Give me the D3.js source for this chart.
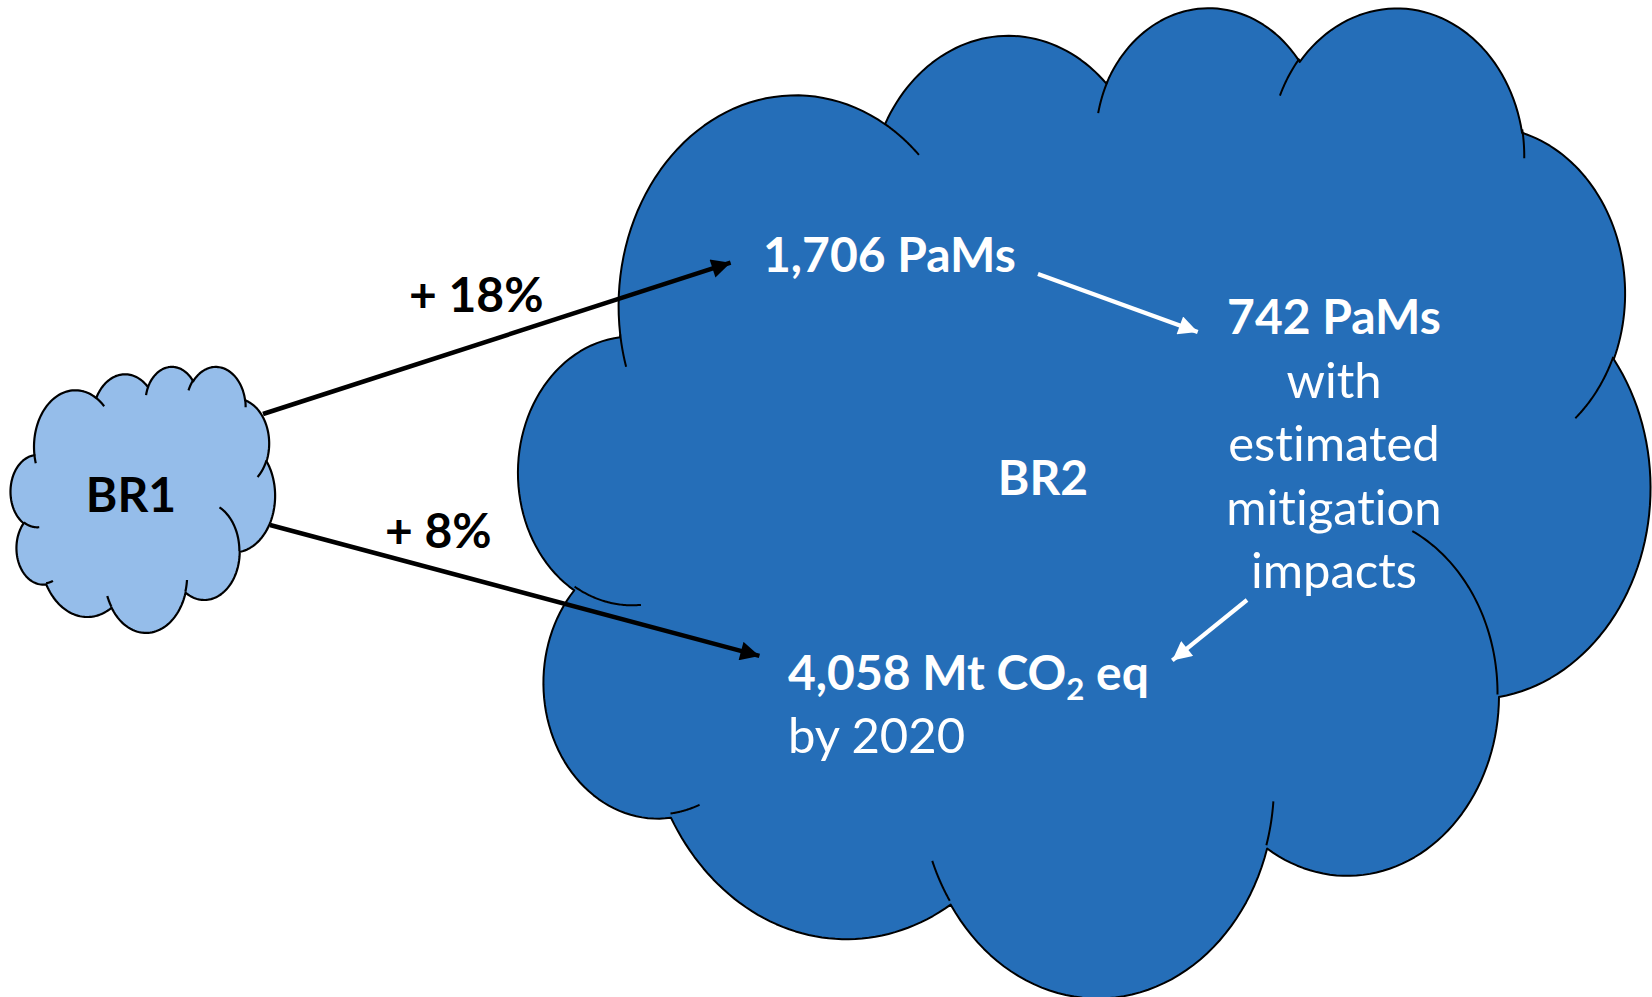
<!DOCTYPE html>
<html>
<head>
<meta charset="utf-8">
<script src="https://cdn.jsdelivr.net/npm/d3@7"></script>
<style>
  html, body { margin: 0; padding: 0; background: #fff; }
  svg { display: block; }
  text { font-family: Lato, 'Open Sans', sans-serif; font-variant-ligatures: none; font-feature-settings: "liga" 0, "clig" 0; }
</style>
</head>
<body>
<svg id="chart"></svg>
<script>
(function () {
  // Variables
  var WIDTH = 1652
  var HEIGHT = 997

  // Data
  var cloudNames = ['BR1', 'BR2']
  var growthLabels = ['+ 18%', '+ 8%']
  var pamsTotal = '1,706 PaMs'
  var pamsWithImpacts = ['742 PaMs', 'with', 'estimated', 'mitigation', 'impacts']
  var emissionsLabel = ['4,058 Mt CO', '2', ' eq']
  var emissionsYear = 'by 2020'

  var COLORS = {
    small: '#95BDEA',
    big: '#256EB8',
    line: '#000'
  }

  // office cloud outline, 43200 x 43200 units: [wR, hR, stAng, swAng] (angles in 1/60000 deg)
  var CLOUD_START = [3900, 14370]
  var CLOUD_ARCS = [
    [6753, 9190, -11429249, 7426832],
    [5333, 7267, -8646143, 5396714],
    [4365, 5945, -8748475, 5983381],
    [4857, 6595, -7859164, 7034504],
    [5333, 7273, -4722533, 6541615],
    [6775, 9220, -2776324, 7804134],
    [5785, 7867, 37501, 6842000],
    [6752, 9215, 1347096, 6910353],
    [7720, 10543, 3974558, 4542661],
    [4360, 5918, -16496525, 8804134],
    [4345, 5945, -14809710, 9151131]
  ]
  // small creases inside the cloud: [x, y, wR, hR, stAng, swAng]
  var CLOUD_CREASES = [
    [4693, 26177, 4345, 5945, 5204520, 1585770],
    [6928, 34899, 4360, 5918, 4416628, 686848],
    [16478, 39090, 6752, 9215, 8257449, 844866],
    [28827, 34751, 6752, 9215, 387196, 959901],
    [34129, 22954, 5785, 7867, -4217541, 4255042],
    [41798, 15354, 5333, 7273, 1819082, 1665090],
    [38324, 5426, 4857, 6595, -824660, 891534],
    [29078, 3952, 4857, 6595, -8950887, 1091722],
    [22141, 4720, 4365, 5945, -9809656, 1061181],
    [14000, 5192, 6753, 9190, -4002417, 739161],
    [4127, 15789, 6753, 9190, 9459261, 711490]
  ]

  var svg = d3.select('#chart')
    .attr('width', WIDTH)
    .attr('height', HEIGHT)

  var defs = svg.append('defs')
  ;[['head-black', '#000'], ['head-white', '#fff']].forEach(function (m) {
    defs.append('marker')
      .attr('id', m[0])
      .attr('viewBox', '0 0 10 10')
      .attr('refX', 10)
      .attr('refY', 5)
      .attr('markerUnits', 'userSpaceOnUse')
      .attr('markerWidth', 20)
      .attr('markerHeight', 19)
      .attr('orient', 'auto')
      .append('path')
      .attr('d', 'M0,0L10,5L0,10z')
      .attr('fill', m[1])
  })

  // visual angle -> parametric angle on the ellipse
  function param (a, wR, hR) {
    return Math.atan2(wR * Math.sin(a), hR * Math.cos(a))
  }

  // sample an arc starting at point p, returns list of points
  function arcPoints (p, wR, hR, st, sw) {
    var a1 = st / 60000 * Math.PI / 180
    var a2 = (st + sw) / 60000 * Math.PI / 180
    var t1 = param(a1, wR, hR)
    var t2 = param(a2, wR, hR)
    var dt = t2 - t1
    if (sw > 0) { while (dt < 0) dt += 2 * Math.PI } else { while (dt > 0) dt -= 2 * Math.PI }
    var cx = p[0] - wR * Math.cos(t1)
    var cy = p[1] - hR * Math.sin(t1)
    var n = 48
    var pts = []
    for (var i = 0; i <= n; i++) {
      var t = t1 + dt * i / n
      pts.push([cx + wR * Math.cos(t), cy + hR * Math.sin(t)])
    }
    return pts
  }

  function drawCloud (frame, fill, strokeWidth) {
    var x = d3.scaleLinear().domain([0, 43200]).range([frame[0], frame[2]])
    var y = d3.scaleLinear().domain([0, 43200]).range([frame[1], frame[3]])
    var line = d3.line().x(function (d) { return x(d[0]) }).y(function (d) { return y(d[1]) })

    var outline = [CLOUD_START]
    var cur = CLOUD_START
    CLOUD_ARCS.forEach(function (a) {
      var pts = arcPoints(cur, a[0], a[1], a[2], a[3])
      outline = outline.concat(pts.slice(1))
      cur = pts[pts.length - 1]
    })

    var g = svg.append('g').classed('cloud', true)
    g.append('path')
      .attr('d', line(outline) + 'Z')
      .attr('fill', fill)
      .attr('stroke', COLORS.line)
      .attr('stroke-width', strokeWidth)
      .attr('stroke-linejoin', 'round')

    g.selectAll('path.crease')
      .data(CLOUD_CREASES)
      .enter().append('path')
      .classed('crease', true)
      .attr('d', function (c) { return line(arcPoints([c[0], c[1]], c[2], c[3], c[4], c[5])) })
      .attr('fill', 'none')
      .attr('stroke', COLORS.line)
      .attr('stroke-width', strokeWidth)
    return g
  }

  // clouds: [left, top, right, bottom]
  drawCloud([518, 5, 1650, 995], COLORS.big, 2)
  drawCloud([10.5, 366, 275, 632], COLORS.small, 2.2)

  // arrows
  var arrows = [
    { from: [263, 414], to: [742, 259], color: '#000', width: 4.5, marker: 'head-black' },
    { from: [270, 525], to: [771, 659], color: '#000', width: 4.5, marker: 'head-black' },
    { from: [1038, 274], to: [1209, 336], color: '#fff', width: 4.2, marker: 'head-white' },
    { from: [1247, 600], to: [1163, 668], color: '#fff', width: 4.2, marker: 'head-white' }
  ]
  svg.append('g')
    .selectAll('line')
    .data(arrows)
    .enter().append('line')
    .attr('x1', function (d) { return d.from[0] })
    .attr('y1', function (d) { return d.from[1] })
    .attr('x2', function (d) {
      var dx = d.to[0] - d.from[0], dy = d.to[1] - d.from[1], l = Math.sqrt(dx * dx + dy * dy)
      return d.to[0] - dx / l * 12
    })
    .attr('y2', function (d) {
      var dx = d.to[0] - d.from[0], dy = d.to[1] - d.from[1], l = Math.sqrt(dx * dx + dy * dy)
      return d.to[1] - dy / l * 12
    })
    .attr('stroke', function (d) { return d.color })
    .attr('stroke-width', function (d) { return d.width })
    .attr('marker-end', function (d) { return 'url(#' + d.marker + ')' })

  // labels
  var FS = 48
  var labels = svg.append('g').classed('labels', true)

  labels.append('text')
    .attr('x', 131).attr('y', 512)
    .attr('text-anchor', 'middle')
    .attr('font-size', FS).attr('font-weight', 700)
    .attr('fill', '#000')
    .text(cloudNames[0])

  labels.append('text')
    .attr('x', 1043).attr('y', 495)
    .attr('text-anchor', 'middle')
    .attr('font-size', FS).attr('font-weight', 700)
    .attr('fill', '#fff')
    .text(cloudNames[1])

  labels.selectAll('text.growth')
    .data(growthLabels)
    .enter().append('text')
    .classed('growth', true)
    .attr('x', function (d, i) { return [409, 385][i] })
    .attr('y', function (d, i) { return [312, 548][i] })
    .attr('font-size', FS).attr('font-weight', 700)
    .attr('fill', '#000')
    .text(function (d) { return d })

  labels.append('text')
    .attr('x', 763).attr('y', 272)
    .attr('font-size', FS).attr('font-weight', 700)
    .attr('fill', '#fff')
    .text(pamsTotal)

  labels.selectAll('text.impacts')
    .data(pamsWithImpacts)
    .enter().append('text')
    .classed('impacts', true)
    .attr('x', 1334)
    .attr('y', function (d, i) { return 334 + i * 63.5 })
    .attr('text-anchor', 'middle')
    .attr('font-size', function (d, i) { return i === 0 ? FS : FS + 1 })
    .attr('font-weight', function (d, i) { return i === 0 ? 700 : 400 })
    .attr('fill', '#fff')
    .text(function (d) { return d })

  var em = labels.append('text')
    .attr('x', 788).attr('y', 690)
    .attr('font-size', FS).attr('font-weight', 700)
    .attr('fill', '#fff')
  em.append('tspan').text(emissionsLabel[0])
  em.append('tspan').attr('font-size', FS * 0.65).attr('dy', 10).text(emissionsLabel[1])
  em.append('tspan').attr('dy', -10).text(emissionsLabel[2])

  labels.append('text')
    .attr('x', 788).attr('y', 753)
    .attr('font-size', FS + 1).attr('font-weight', 400)
    .attr('fill', '#fff')
    .text(emissionsYear)
})()
</script>
</body>
</html>
